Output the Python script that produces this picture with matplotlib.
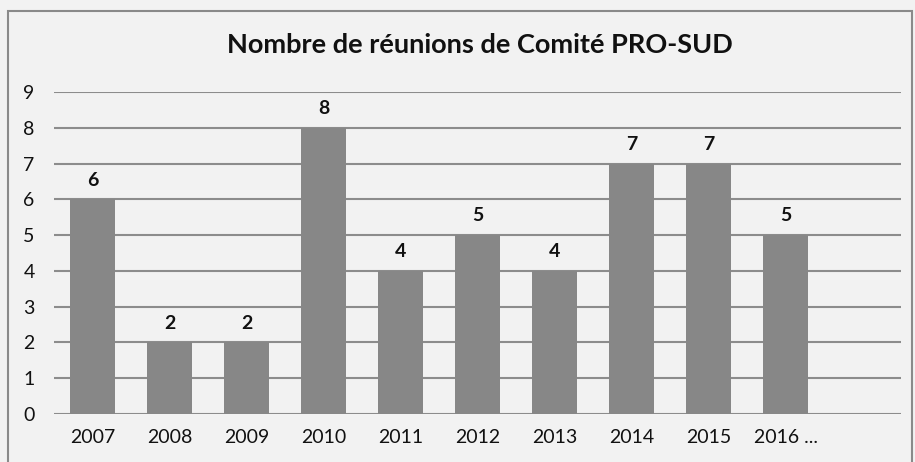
import matplotlib
matplotlib.use("Agg")
import matplotlib.pyplot as plt
from matplotlib.patches import Rectangle

years = ["2007", "2008", "2009", "2010", "2011", "2012", "2013", "2014", "2015", "2016 ..."]
meetings = [6, 2, 2, 8, 4, 5, 4, 7, 7, 5]

plt.rcParams['font.family'] = ['Lato', 'DejaVu Sans']

bg = "#f2f2f2"
fig = plt.figure(figsize=(9.15, 4.62), dpi=100, facecolor=bg)
ax = fig.add_axes([54/915, 48/462, 847/915, 322/462], facecolor=bg)

x = list(range(len(years)))
bars = ax.bar(x, meetings, width=0.58, color="#878787", zorder=3)
for xi, v in zip(x, meetings):
    ax.text(xi, v + 0.3, str(v), ha="center", va="bottom", fontsize=14, fontweight="bold", color="#111111")

# empty slot on the right, like the original sheet
ax.set_xlim(-0.5, len(years) + 0.5)
ax.set_ylim(0, 9)
ax.set_yticks(range(0, 10))
ax.set_xticks(x)
ax.set_xticklabels(years)
ax.tick_params(axis="both", length=0, labelsize=14, colors="#111111")
ax.tick_params(axis="x", pad=11)
ax.tick_params(axis="y", pad=14)
ax.grid(axis="y", color="#8c8c8c", linewidth=1.5, zorder=0)
for s in ax.spines.values():
    s.set_visible(False)

fig.text(480/915, 1 - 45/462, "Nombre de réunions de Comité PRO-SUD", ha="center", va="center",
         fontsize=19.5, fontweight="bold", color="#111111")

fig.add_artist(Rectangle((8/915, -0.05), 904/915, 1.05 - 11/462, transform=fig.transFigure,
                         fill=False, edgecolor="#8a8a8a", linewidth=1.5, clip_on=False))

fig.savefig("out.png", dpi=100, facecolor=bg)
